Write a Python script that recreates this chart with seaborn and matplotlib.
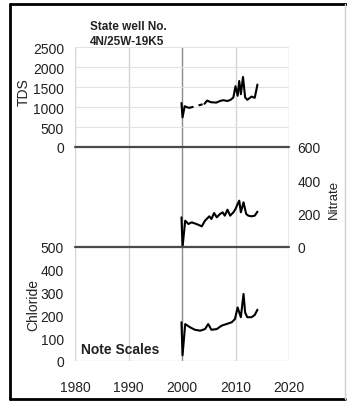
import numpy as np
import pandas as pd
import matplotlib
matplotlib.use("Agg")
import matplotlib.pyplot as plt
from matplotlib.lines import Line2D
import seaborn as sns

# ---------------- data ----------------
tds_year_a = [1999.9, 2000.1, 2000.5, 2001.0, 2001.4]
tds_val_a = [1100, 740, 1020, 990, 980]
tds_year_b = [2004.2, 2004.7, 2005.4, 2006.4, 2007.1, 2007.7, 2008.5, 2009.1, 2009.6,
              2010.0, 2010.4, 2010.7, 2011.0, 2011.4, 2011.8, 2012.2, 2013.0, 2013.6, 2014.1]
tds_val_b = [1080, 1160, 1120, 1110, 1150, 1170, 1150, 1180, 1240,
             1520, 1280, 1650, 1320, 1750, 1240, 1180, 1260, 1230, 1560]

nit_year = [1999.9, 2000.1, 2000.6, 2001.2, 2001.8, 2002.7, 2003.7, 2004.3, 2005.1, 2005.5,
            2006.0, 2006.5, 2007.1, 2007.6, 2008.0, 2008.5, 2009.0, 2009.6, 2010.0, 2010.4,
            2010.7, 2011.0, 2011.5, 2012.0, 2012.4, 2013.0, 2013.6, 2014.1]
nit_val = [178, 0, 158, 138, 148, 138, 124, 158, 184, 168,
           204, 178, 198, 208, 188, 224, 188, 208, 228, 258,
           278, 208, 268, 198, 188, 184, 188, 212]

cl_year = [1999.9, 2000.1, 2000.6, 2001.5, 2002.4, 2003.4, 2004.3, 2004.9, 2005.5, 2006.5,
           2007.4, 2008.3, 2009.3, 2009.9, 2010.4, 2010.7, 2011.0, 2011.5, 2011.8, 2012.2,
           2013.0, 2013.6, 2014.1]
cl_val = [170, 25, 162, 148, 137, 133, 140, 162, 137, 140,
          155, 162, 170, 184, 235, 213, 192, 294, 213, 192,
          192, 202, 225]

x_ticks = [1980, 1990, 2000, 2010, 2020]
tds_ticks = [0, 500, 1000, 1500, 2000, 2500]
nit_ticks = [0, 200, 400, 600]
cl_ticks = [0, 100, 200, 300, 400, 500]

# ---------------- style ----------------
sns.set_theme(style="white")
plt.rcParams["font.family"] = ["Liberation Sans", "DejaVu Sans"]

W, H = 347, 402
fig = plt.figure(figsize=(W / 100, H / 100), dpi=100)

def fr(x0, y0, x1, y1):
    return [x0 / W, 1 - y1 / H, (x1 - x0) / W, (y1 - y0) / H]

ax1 = fig.add_axes(fr(75, 48, 289, 148))
ax2 = fig.add_axes(fr(75, 148, 289, 248))
ax3 = fig.add_axes(fr(75, 248, 289, 362))

# TDS with dashed gap
tds_df = pd.DataFrame({
    "year": tds_year_a + [tds_year_a[-1], tds_year_b[0]] + tds_year_b,
    "value": tds_val_a + [tds_val_a[-1], tds_val_b[0]] + tds_val_b,
    "seg": ["a"] * len(tds_year_a) + ["gap"] * 2 + ["b"] * len(tds_year_b),
})
sns.lineplot(data=tds_df, x="year", y="value", units="seg", estimator=None,
             style="seg", dashes={"a": "", "gap": (2, 2.5), "b": ""},
             color="black", lw=1.5, ax=ax1, legend=False, sort=False)

sns.lineplot(x=nit_year, y=nit_val, color="black", lw=1.5, ax=ax2,
             estimator=None, sort=False)
sns.lineplot(x=cl_year, y=cl_val, color="black", lw=1.5, ax=ax3,
             estimator=None, sort=False)

grid_c = "#d4d4d4"
for ax in (ax1, ax2, ax3):
    ax.set_xlim(1980, 2020)
    ax.set_xticks(x_ticks)
    for s in ax.spines.values():
        s.set_visible(False)
    for xv in x_ticks:
        ax.axvline(xv, color="#8a8a8a" if xv == 2000 else grid_c, lw=1.0, zorder=0)
    ax.set_xlabel("")
    ax.set_ylabel("")
    ax.tick_params(length=0, labelsize=10, colors="#222222")

ax1.set_ylim(0, 2500)
ax1.set_yticks(tds_ticks)
for yv in tds_ticks[1:]:
    ax1.axhline(yv, color="#e2e2e2", lw=0.8, zorder=0)
ax1.tick_params(axis="x", labelbottom=False)
ax1.tick_params(axis="y", pad=8)

ax2.set_ylim(0, 600)
ax2.set_yticks(nit_ticks)
ax2.yaxis.tick_right()
ax2.tick_params(axis="y", pad=6)
ax2.tick_params(axis="x", labelbottom=False)
ax2.axvline(2020, color="#b0b0b0", lw=1.0, zorder=0)

ax3.set_ylim(0, 500)
ax3.set_yticks(cl_ticks)
ax3.tick_params(axis="y", pad=8)
ax3.tick_params(axis="x", pad=14)
ax3.axhline(0, color="#dcdcdc", lw=1.0, zorder=0)

# panel separators
for yp in (148, 248):
    fig.add_artist(Line2D([75 / W, 289 / W], [1 - yp / H, 1 - yp / H],
                          color="#4a4a4a", lw=1.6))

# texts
fig.text(90 / W, 1 - 27 / H, "State well No.", fontsize=8.5, fontweight="bold",
         va="center", ha="left", color="#222222")
fig.text(90 / W, 1 - 42 / H, "4N/25W-19K5", fontsize=8.5, fontweight="bold",
         va="center", ha="left", color="#222222")
fig.text(81 / W, 1 - 350 / H, "Note Scales", fontsize=10, fontweight="bold",
         va="center", ha="left", color="#222222")
fig.text(24 / W, 1 - 92 / H, "TDS", fontsize=10, rotation=90,
         va="center", ha="center", color="#222222")
fig.text(33 / W, 1 - 305 / H, "Chloride", fontsize=10, rotation=90,
         va="center", ha="center", color="#222222")
fig.text(334 / W, 1 - 199 / H, "Nitrate", fontsize=9.5, rotation=90,
         va="center", ha="center", color="#222222")

# outer border
fig.add_artist(Line2D([10 / W, 1.0], [1 - 5 / H, 1 - 5 / H], color="black", lw=2))
fig.add_artist(Line2D([10 / W, 10 / W], [1 - 5 / H, 1 - 400 / H], color="black", lw=2))
fig.add_artist(Line2D([10 / W, 345 / W], [1 - 400 / H, 1 - 400 / H], color="black", lw=2))
fig.add_artist(Line2D([345 / W, 345 / W], [1 - 5 / H, 1 - 400 / H], color="#d0d0d0", lw=1))

fig.savefig("out.png", dpi=100)
